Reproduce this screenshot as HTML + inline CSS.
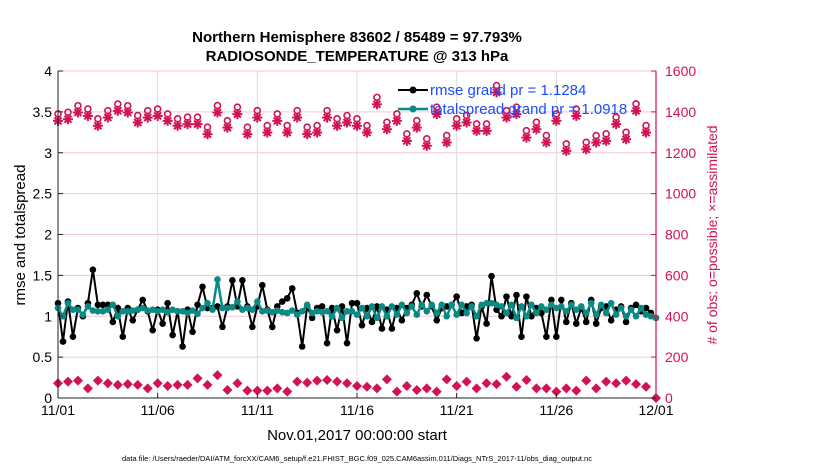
<!DOCTYPE html>
<html><head><meta charset="utf-8">
<style>
body{margin:0;background:#fff;font-family:"Liberation Sans",sans-serif;}
svg text{font-family:"Liberation Sans",sans-serif;}
</style></head>
<body>
<svg id="chart" width="830" height="470" viewBox="0 0 830 470" xmlns="http://www.w3.org/2000/svg">
<text x="357" y="42" text-anchor="middle" font-size="15" font-weight="bold">Northern Hemisphere 83602 / 85489 = 97.793%</text>
<text x="357" y="61" text-anchor="middle" font-size="15" font-weight="bold">RADIOSONDE_TEMPERATURE @ 313 hPa</text>
<g id="grid"></g>
<g id="marks"></g>
<g id="axes"></g>
<text transform="translate(25,235) rotate(-90)" text-anchor="middle" font-size="15">rmse and totalspread</text>
<text fill="#d11254" transform="translate(717,235) rotate(-90)" text-anchor="middle" font-size="14">#  of obs: o=possible; ×=assimilated</text>
<text x="357" y="440" text-anchor="middle" font-size="15">Nov.01,2017 00:00:00 start</text>
<text x="357" y="461" text-anchor="middle" font-size="7.5">data file: /Users/raeder/DAI/ATM_forcXX/CAM6_setup/f.e21.FHIST_BGC.f09_025.CAM6assim.011/Diags_NTrS_2017-11/obs_diag_output.nc</text>
<g>
<line x1="398" y1="90" x2="428" y2="90" stroke="#000" stroke-width="2"/><circle cx="413" cy="90" r="3.5" fill="#000"/>
<line x1="398" y1="109" x2="428" y2="109" stroke="#0a8a85" stroke-width="2.5"/><circle cx="413" cy="109" r="3.5" fill="#0a8a85"/>
<text x="430" y="95" font-size="15" fill="#1a4cff">rmse grand pr = 1.1284</text>
<text x="430" y="114" font-size="15" fill="#1a4cff">totalspread grand pr = 1.0918</text>
</g>
</svg>
<script>
const xTickLabels=["11/01","11/06","11/11","11/16","11/21","11/26","12/01"];
const leftTicks=[0,0.5,1,1.5,2,2.5,3,3.5,4];
const rightTicks=[0,200,400,600,800,1000,1200,1400,1600];
const obsAssimilated=[1356,1364,1397,1380,1332,1372,1405,1397,1348,1372,1380,1356,1332,1340,1340,1291,1397,1323,1389,1291,1372,1299,1356,1299,1372,1291,1299,1372,1332,1348,1332,1299,1437,1315,1356,1258,1323,1234,1389,1250,1332,1348,1307,1307,1495,1372,1389,1274,1315,1250,1356,1209,1380,1217,1250,1258,1340,1266,1405,1299];
const obsPossible=[1390,1398,1430,1414,1366,1406,1438,1430,1382,1406,1414,1390,1366,1374,1374,1325,1431,1357,1423,1325,1406,1333,1390,1333,1406,1325,1333,1406,1366,1382,1366,1333,1471,1349,1390,1292,1357,1268,1423,1284,1366,1382,1341,1341,1529,1406,1423,1308,1349,1284,1390,1243,1414,1251,1284,1292,1374,1300,1439,1333];
const obsOther=[72,80,85,47,85,72,64,68,64,47,72,59,64,64,96,64,112,39,72,36,36,36,47,31,80,75,85,88,80,72,59,55,47,91,31,59,39,47,31,91,59,80,47,72,68,104,55,88,47,47,31,47,36,85,47,80,72,85,68,55,0];
const rmse=[1.16,0.69,1.18,0.75,1.10,1.00,1.16,1.57,1.14,1.14,1.14,0.93,1.10,0.75,1.10,0.95,1.08,1.20,1.06,0.83,1.08,0.91,1.16,0.77,1.06,0.63,1.08,0.81,1.14,1.36,1.10,1.10,1.12,0.87,1.12,1.44,1.12,1.44,1.12,0.87,1.12,1.38,1.08,0.87,1.12,1.18,1.22,1.34,1.04,0.63,1.12,0.98,1.10,1.12,0.67,1.10,0.83,1.12,0.67,1.16,
1.16,0.89,1.10,0.93,1.12,0.85,1.08,0.85,1.10,0.95,1.10,1.14,1.28,1.12,1.26,1.12,0.95,1.10,1.12,1.14,1.24,1.04,1.12,1.14,0.73,1.12,0.91,1.49,1.08,1.00,1.24,1.00,1.26,0.75,1.24,1.00,1.10,1.04,0.75,1.20,0.75,1.20,0.93,1.16,0.91,1.10,0.93,1.20,0.91,1.10,1.12,0.95,1.08,1.12,0.93,1.10,1.14,1.06,1.10,1.04,0.98];
const spread=[1.10,1.00,1.16,1.08,1.08,1.02,1.12,1.07,1.06,1.06,1.08,1.14,1.00,1.06,1.06,1.07,1.08,1.10,1.07,1.08,1.06,1.08,1.05,1.08,1.06,1.06,1.04,1.07,1.03,1.10,1.16,1.08,1.45,1.10,1.10,1.11,1.18,1.08,1.10,1.08,1.18,1.06,1.07,1.05,1.07,1.05,1.04,1.07,1.02,1.06,1.14,1.04,1.06,1.05,1.06,1.00,1.10,0.98,1.06,1.06,
1.02,1.10,1.00,1.12,0.98,1.12,1.00,1.12,1.02,1.14,1.04,1.12,1.02,1.14,1.06,1.14,1.04,1.14,1.00,1.14,1.02,1.14,1.04,1.12,1.00,1.14,1.16,1.16,1.14,1.12,1.04,1.14,0.98,1.12,1.00,1.14,1.04,1.12,1.08,1.14,1.10,1.12,1.06,1.14,1.08,1.12,1.04,1.16,1.02,1.14,1.04,1.16,1.02,1.10,1.00,1.08,1.00,1.10,1.02,1.00,0.98];

const L=58,R=656,T=71,B=398,NS="http://www.w3.org/2000/svg";
const xDay=d=>L+(R-L)*d/30;
const yL=v=>B-(B-T)*v/4;
const yR=v=>B-(B-T)*v/1600;
const MAG="#d11254",TEAL="#0a8a85";
function mk(tag,attrs,parent){const e=document.createElementNS(NS,tag);for(const k in attrs)e.setAttribute(k,attrs[k]);parent.appendChild(e);return e;}
const grid=document.getElementById('grid'),marks=document.getElementById('marks'),axes=document.getElementById('axes');
rightTicks.forEach(v=>{const l=mk('line',{x1:L,x2:R,y1:yR(v),y2:yR(v),stroke:'#f3c6d6','stroke-width':1},grid);

});
xTickLabels.forEach((t,i)=>{const x=xDay(i*5);const l=mk('line',{x1:x,x2:x,y1:T,y2:B,stroke:'#dcdcdc','stroke-width':1},grid);


const tx=mk('text',{x:x,y:B+17,'text-anchor':'middle','font-size':14},axes);tx.textContent=t;


mk('line',{x1:x,x2:x,y1:B,y2:B-5,stroke:'#222'},axes);});
leftTicks.forEach(v=>{const tx=mk('text',{x:L-6,y:yL(v)+5,'text-anchor':'end','font-size':14},axes);tx.textContent=String(v);


mk('line',{x1:L,x2:L+5,y1:yL(v),y2:yL(v),stroke:'#222'},axes);});
rightTicks.forEach(v=>{const tx=mk('text',{x:R+9,y:yR(v)+5,'font-size':14,fill:MAG},axes);tx.textContent=String(v);


mk('line',{x1:R,x2:R-5,y1:yR(v),y2:yR(v),stroke:MAG},axes);});
mk('line',{x1:L,x2:L,y1:T,y2:B,stroke:'#222'},axes);
mk('line',{x1:L,x2:R,y1:B,y2:B,stroke:'#222'},axes);
mk('line',{x1:R,x2:R,y1:T,y2:B,stroke:MAG,'stroke-width':1.2},axes);
// obs markers (12-hourly)
obsOther.forEach((v,i)=>{const x=xDay(i*0.5),y=yR(v);
const d=mk('polygon',{points:`${x},${y-5} ${x+5},${y} ${x},${y+5} ${x-5},${y}`,fill:MAG},marks);

});
obsPossible.forEach((v,i)=>{const c=mk('circle',{cx:xDay(i*0.5),cy:yR(v),r:3,fill:'none',stroke:MAG,'stroke-width':1.6},marks);

});
obsAssimilated.forEach((v,i)=>{const x=xDay(i*0.5),y=yR(v);const g=mk('g',{stroke:MAG,'stroke-width':2},marks);


mk('line',{x1:x-5,x2:x+5,y1:y,y2:y},g);mk('line',{x1:x,x2:x,y1:y-5,y2:y+5},g);
mk('line',{x1:x-3.5,x2:x+3.5,y1:y-3.5,y2:y+3.5},g);mk('line',{x1:x-3.5,x2:x+3.5,y1:y+3.5,y2:y-3.5},g);});
function series(arr,color,w,r,name){const n=arr.length;const pts=arr.map((v,i)=>[xDay(30*i/(n-1)),yL(v)]);
const p=mk('polyline',{points:pts.map(p=>p.join(',')).join(' '),fill:'none',stroke:color,'stroke-width':w},marks);


pts.forEach(q=>{const c=mk('circle',{cx:q[0],cy:q[1],r:r,fill:color},marks);

});}
series(rmse,'#000',2,3.3,'rmse');
series(spread,TEAL,2.5,3.3,'totalspread');
</script>
</body></html>
